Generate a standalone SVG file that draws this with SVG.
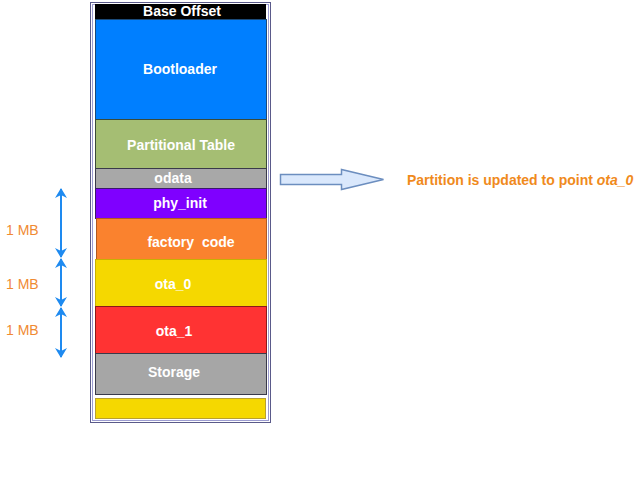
<svg xmlns="http://www.w3.org/2000/svg" width="641" height="482" viewBox="0 0 641 482">
<style>
.lbl{font-family:"Liberation Sans",Arial,sans-serif;font-weight:bold;font-size:14px;fill:#fff;text-anchor:middle}
.mb{font-family:"Liberation Sans",Arial,sans-serif;font-size:14px;fill:#F08A32}
.note{font-family:"Liberation Sans",Arial,sans-serif;font-weight:bold;font-size:14px;fill:#F08A1C}
.dim{stroke:#1E8AF0;stroke-width:2;fill:none;marker-start:url(#ah);marker-end:url(#ah)}
</style>
<defs>
<marker id="ah" viewBox="0 0 10 12" refX="9" refY="6" markerWidth="5" markerHeight="6" orient="auto-start-reverse" markerUnits="strokeWidth">
<path d="M0,0 L10,6 L0,12 L3,6 Z" fill="#1E8AF0"/>
</marker>
</defs>
<rect width="641" height="482" fill="#fff"/>
<g id="container">
<rect x="90.5" y="2.5" width="180" height="420" fill="#fff" stroke="#5A5A8A"/>
<rect x="92.5" y="4.5" width="176" height="416" fill="none" stroke="#9C9CD0"/>
</g>
<g id="base-offset"><rect x="95" y="4" width="171" height="15" fill="#000"/><text class="lbl" x="182" y="16">Base Offset</text></g>
<g id="bootloader"><rect x="95.5" y="19.5" width="171" height="100" fill="#007FFF" stroke="#1A4A7A"/><text class="lbl" x="180" y="74">Bootloader</text></g>
<g id="partition-table"><rect x="95.5" y="119.5" width="171" height="49" fill="#A5BE73" stroke="#3A4A3A"/><text class="lbl" x="181" y="150">Partitional Table</text></g>
<g id="odata"><rect x="95.5" y="168.5" width="171" height="20" fill="#A8A8A8" stroke="#3A3A4A"/><text class="lbl" x="173" y="183">odata</text></g>
<g id="phy-init"><rect x="95.5" y="188.5" width="171" height="30" fill="#7F00FF" stroke="#3A1A6A"/><text class="lbl" x="180" y="208">phy_init</text></g>
<g id="factory"><rect x="96.5" y="218.5" width="170" height="41" fill="#FA822E" stroke="#B05A20"/><text class="lbl" x="191" y="247" xml:space="preserve">factory  code</text></g>
<g id="ota0"><rect x="95.5" y="259.5" width="171" height="47" fill="#F5D800" stroke="#C8B000"/><text class="lbl" x="173" y="289">ota_0</text></g>
<g id="ota1"><rect x="95.5" y="306.5" width="171" height="47" fill="#FF3333" stroke="#8A1A1A"/><text class="lbl" x="174" y="336">ota_1</text></g>
<g id="storage"><rect x="95.5" y="353.5" width="171" height="41" fill="#A6A6A6" stroke="#3A3A4A"/><text class="lbl" x="174" y="377">Storage</text></g>
<g id="bottom"><rect x="95.5" y="398.5" width="170" height="20" fill="#F5D800" stroke="#B8A030"/></g>
<g id="connectors">
<line class="dim" x1="61" y1="189" x2="61" y2="257"/>
<line class="dim" x1="61" y1="259" x2="61" y2="306"/>
<line class="dim" x1="61" y1="308" x2="61" y2="357"/>
<path d="M280.5,174.5 H341.5 V169.5 L383.5,179.5 L341.5,189.5 V184.5 H280.5 Z" fill="#DAE8FC" stroke="#6C8EBF" stroke-width="1.5"/>
</g>
<g id="labels">
<text class="mb" x="6" y="235">1 MB</text>
<text class="mb" x="6" y="289">1 MB</text>
<text class="mb" x="6" y="335">1 MB</text>
<text class="note" x="407" y="185">Partition is updated to point <tspan font-style="italic">ota_0</tspan></text>
</g>
</svg>
